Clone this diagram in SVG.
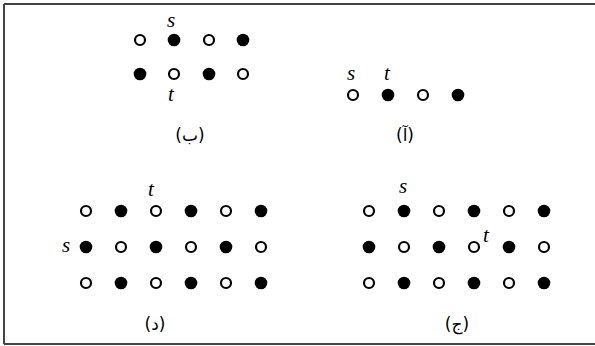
<svg xmlns="http://www.w3.org/2000/svg" width="595" height="346" viewBox="0 0 595 346">
<style>
.o{fill:#fff;stroke:#000;stroke-width:2.2}
.f{fill:#000}
.v{font-family:"Liberation Serif","DejaVu Serif",serif;font-style:italic;font-size:21px;fill:#000}
.c{font-family:"DejaVu Sans","Noto Sans",sans-serif;font-size:17px;fill:#000;text-anchor:middle}
</style>
<rect width="595" height="346" fill="#fff"/>
<g id="frame" stroke="#444" stroke-width="2" fill="none">
<line x1="4" y1="4" x2="595" y2="4"/>
<line x1="4" y1="4" x2="4" y2="344"/>
<line x1="4" y1="344" x2="595" y2="344"/>
</g>
<g id="connectors"/>
<g id="panel-b">
<circle class="o" cx="140" cy="40" r="5"/><circle class="f" cx="174" cy="40" r="6.3"/><circle class="o" cx="209" cy="40" r="5"/><circle class="f" cx="243" cy="40" r="6.3"/>
<circle class="f" cx="140" cy="74" r="6.3"/><circle class="o" cx="174" cy="74" r="5"/><circle class="f" cx="209" cy="74" r="6.3"/><circle class="o" cx="243" cy="74" r="5"/>
<text class="v" x="167" y="27">s</text>
<text class="v" x="168" y="101">t</text>
<text class="c" x="190" y="141">(ب)</text>
</g>
<g id="panel-a">
<circle class="o" cx="353" cy="95" r="5"/><circle class="f" cx="388" cy="95" r="6.3"/><circle class="o" cx="423" cy="95" r="5"/><circle class="f" cx="458" cy="95" r="6.3"/>
<text class="v" x="347" y="80">s</text>
<text class="v" x="384" y="80">t</text>
<text class="c" x="405" y="141">(آ)</text>
</g>
<g id="panel-d">
<circle class="o" cx="86" cy="211" r="5"/><circle class="f" cx="121" cy="211" r="6.3"/><circle class="o" cx="156" cy="211" r="5"/><circle class="f" cx="191" cy="211" r="6.3"/><circle class="o" cx="226" cy="211" r="5"/><circle class="f" cx="261" cy="211" r="6.3"/>
<circle class="f" cx="86" cy="247" r="6.3"/><circle class="o" cx="121" cy="247" r="5"/><circle class="f" cx="156" cy="247" r="6.3"/><circle class="o" cx="191" cy="247" r="5"/><circle class="f" cx="226" cy="247" r="6.3"/><circle class="o" cx="261" cy="247" r="5"/>
<circle class="o" cx="86" cy="283" r="5"/><circle class="f" cx="121" cy="283" r="6.3"/><circle class="o" cx="156" cy="283" r="5"/><circle class="f" cx="191" cy="283" r="6.3"/><circle class="o" cx="226" cy="283" r="5"/><circle class="f" cx="261" cy="283" r="6.3"/>
<text class="v" x="62" y="252">s</text>
<text class="v" x="148" y="196">t</text>
<text class="c" x="155" y="330">(د)</text>
</g>
<g id="panel-j">
<circle class="o" cx="369" cy="211" r="5"/><circle class="f" cx="404" cy="211" r="6.3"/><circle class="o" cx="439" cy="211" r="5"/><circle class="f" cx="474" cy="211" r="6.3"/><circle class="o" cx="509" cy="211" r="5"/><circle class="f" cx="544" cy="211" r="6.3"/>
<circle class="f" cx="369" cy="247" r="6.3"/><circle class="o" cx="404" cy="247" r="5"/><circle class="f" cx="439" cy="247" r="6.3"/><circle class="o" cx="474" cy="247" r="5"/><circle class="f" cx="509" cy="247" r="6.3"/><circle class="o" cx="544" cy="247" r="5"/>
<circle class="o" cx="369" cy="283" r="5"/><circle class="f" cx="404" cy="283" r="6.3"/><circle class="o" cx="439" cy="283" r="5"/><circle class="f" cx="474" cy="283" r="6.3"/><circle class="o" cx="509" cy="283" r="5"/><circle class="f" cx="544" cy="283" r="6.3"/>
<text class="v" x="399" y="193">s</text>
<text class="v" x="483" y="242">t</text>
<text class="c" x="457" y="330">(ج)</text>
</g>
</svg>
